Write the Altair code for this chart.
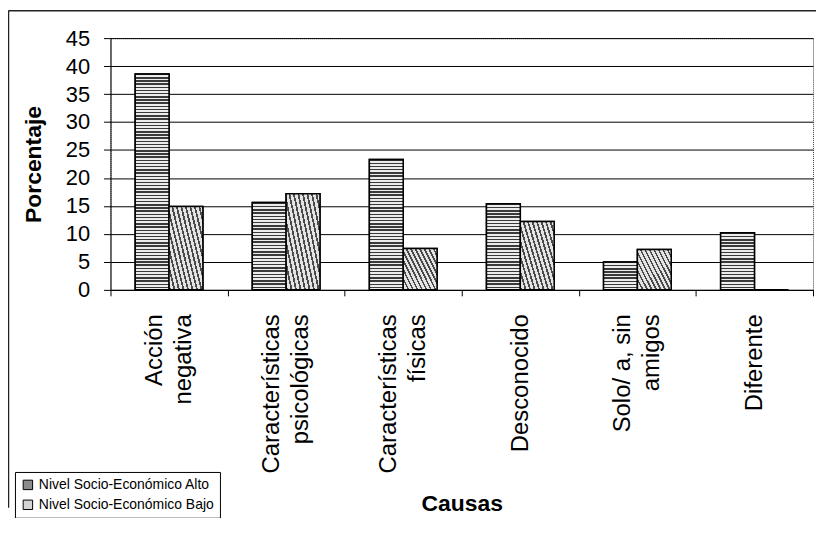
import altair as alt
import pandas as pd

categories = [
    "Acción\nnegativa",
    "Características\npsicológicas",
    "Características\nfísicas",
    "Desconocido",
    "Solo/ a, sin\namigos",
    "Diferente",
]
series = ["Nivel Socio-Económico Alto", "Nivel Socio-Económico Bajo"]
alto = [38.6, 15.6, 23.3, 15.4, 5.0, 10.2]
bajo = [14.9, 17.2, 7.4, 12.2, 7.2, 0.0]
y_ticks = [0, 5, 10, 15, 20, 25, 30, 35, 40, 45]

rows = []
for c, a, b in zip(categories, alto, bajo):
    rows.append({"causa": c, "nivel": series[0], "pct": a})
    rows.append({"causa": c, "nivel": series[1], "pct": b})
df = pd.DataFrame(rows)


def stripes(n, duty, dark, light):
    stops = []
    for i in range(n):
        a = round(i / n, 5)
        b = round((i + duty) / n, 5)
        c = round((i + 1) / n, 5)
        stops += [
            alt.GradientStop(offset=a, color=dark),
            alt.GradientStop(offset=b, color=dark),
            alt.GradientStop(offset=b, color=light),
            alt.GradientStop(offset=c, color=light),
        ]
    return stops


def hstripes(n):
    return alt.LinearGradient(gradient="linear", stops=stripes(n, 0.45, "#3a3a3a", "#ececec"),
                              x1=0, y1=0, x2=0, y2=1)


bajo_fill = alt.LinearGradient(
    gradient="linear", stops=stripes(12, 0.4, "#4a4a4a", "#e4e4e4"),
    x1=0, y1=1, x2=1.176, y2=0.294,
)

FONT = "Liberation Sans"
ZWSP = "\u200b"  # invisible filler line that is not trimmed away

# two-line labels become [line1, filler, line2]; one-line labels become [filler, label]
label_expr = (
    "indexof(datum.label, '\\n') >= 0 ? "
    "[split(datum.label, '\\n')[0], '" + ZWSP + "', split(datum.label, '\\n')[1]] : ['"
    + ZWSP + "', datum.label]"
)

x_enc = alt.X(
    "causa:N", sort=categories,
    scale=alt.Scale(paddingInner=0, paddingOuter=0),
    axis=alt.Axis(
        title="Causas", labelAngle=270, labelAlign="right", labelBaseline="middle",
        labelExpr=label_expr, labelLineHeight=14.5, labelOffset=-14.5,
        labelFontSize=24, labelFont=FONT, labelColor="black", labelPadding=18,
        labelOverlap=False, labelLimit=400, tickBand="extent", tickSize=6,
        tickColor="black", domainColor="black", grid=False,
        titleFontSize=23, titleFontWeight="bold", titleFont=FONT, titleColor="black",
        titleY=222, titleBaseline="alphabetic",
    ),
)
xo_enc = alt.XOffset("nivel:N", sort=series, scale=alt.Scale(paddingInner=0, paddingOuter=0.73))
y_enc = alt.Y(
    "pct:Q", scale=alt.Scale(domain=[0, 45], nice=False),
    axis=alt.Axis(
        title="Porcentaje", values=y_ticks, labelFontSize=22, labelFont=FONT,
        labelColor="black", labelPadding=14, tickSize=7, tickColor="black",
        domainColor="black", gridColor="black", gridWidth=1, gridOpacity=1,
        titleFontSize=23, titleFontWeight="bold", titleFont=FONT, titleColor="black",
        titleAngle=270, titleAlign="center", titleBaseline="alphabetic",
        titleX=-70, titleY=126.5,
    ),
)

base = alt.Chart(df).mark_bar(stroke="black", strokeWidth=1.5).encode(
    x=x_enc, xOffset=xo_enc, y=y_enc,
    color=alt.Color(
        "nivel:N", sort=series,
        scale=alt.Scale(domain=series, range=["#8c8c8c", "#d4d4d4"]),
        legend=alt.Legend(
            title=None, orient="none", legendX=-96, legendY=436, direction="vertical",
            symbolType="square", symbolSize=90, symbolStrokeColor="black",
            symbolStrokeWidth=1, labelFontSize=14, labelFont=FONT, labelColor="black",
            labelLimit=400, strokeColor="black", padding=6, rowPadding=6,
            fillColor="white", labelOffset=4,
        ),
    ),
)

# stripe density kept near 3 px per stripe, whatever the bar height
stripe_groups = [(30, 1000, 68), (20, 30, 41), (12, 20, 27), (8, 12, 18), (-1, 8, 9)]
alto_layers = []
for lo, hi, n in stripe_groups:
    alto_layers.append(
        alt.Chart(df)
        .transform_filter((alt.datum.nivel == series[0]) & (alt.datum.pct > lo) & (alt.datum.pct <= hi))
        .mark_bar(fill=hstripes(n), stroke="black", strokeWidth=1.5)
        .encode(x=x_enc, xOffset=xo_enc, y=y_enc)
    )

over_bajo = alt.Chart(df).transform_filter(alt.datum.nivel == series[1]).mark_bar(
    fill=bajo_fill, stroke="black", strokeWidth=1.5
).encode(x=x_enc, xOffset=xo_enc, y=y_enc)

frame_df = pd.DataFrame({"k": [0]})
top_border = alt.Chart(frame_df).mark_rule(color="#222", strokeWidth=1.5).encode(
    x=alt.value(-102), x2=alt.value(712), y=alt.value(-27.5)
)
left_border = alt.Chart(frame_df).mark_rule(color="#222", strokeWidth=1.5).encode(
    x=alt.value(-102.5), y=alt.value(-28), y2=alt.value(472)
)

chart = alt.layer(base, *alto_layers, over_bajo, top_border, left_border).properties(
    width=706, height=253,
    autosize=alt.AutoSizeParams(type="none"),
    padding={"left": 103, "top": 29, "right": 3, "bottom": 228},
    background="white",
).configure_view(stroke="#444", strokeDash=[1, 1], strokeWidth=1)

chart.save("out.html", embed_options={"renderer": "svg", "actions": False})
